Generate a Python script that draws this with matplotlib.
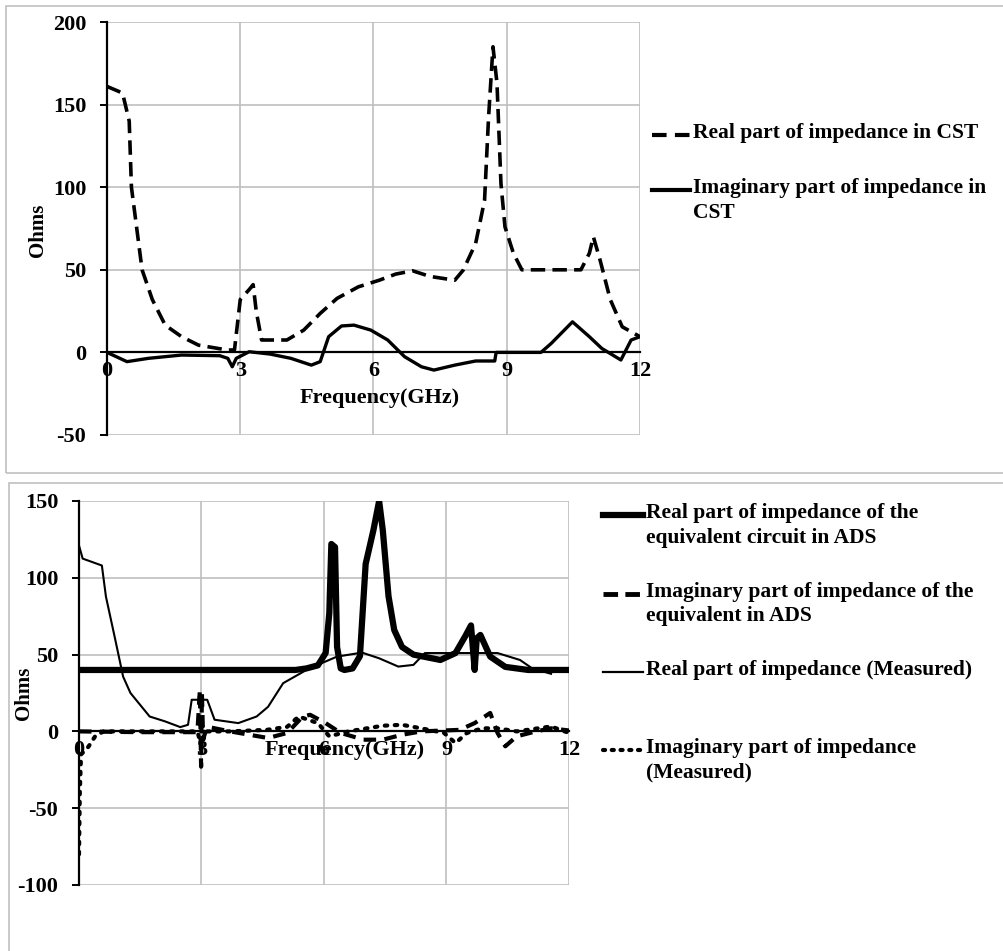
"""
Impedance of the antenna: CST simulation (top) and ADS circuit vs measurement (bottom).
"""
import matplotlib
matplotlib.use("Agg")
import matplotlib.pyplot as plt
from matplotlib.patches import Rectangle

plt.rcParams['font.family'] = ['Liberation Serif', 'DejaVu Serif']
plt.rcParams['font.weight'] = 'bold'
plt.rcParams['axes.unicode_minus'] = False

# --- top chart: CST ---
cst_real_f = [0, 0.35, 0.5, 0.55, 0.79, 1.02, 1.31, 1.68, 2.06, 2.72, 2.87, 3.0, 3.2, 3.29, 3.36, 3.48,
              4.05, 4.43, 4.8, 5.18, 5.66, 6.13, 6.5, 6.88, 7.27, 7.83, 8.02, 8.3, 8.5, 8.59, 8.69,
              8.78, 8.87, 8.96, 9.15, 9.34, 10.67, 10.86, 10.95, 11.1, 11.33, 11.6, 12]
cst_real = [161, 157, 140, 100, 50, 32, 16.5, 9.5, 4.4, 1.4, 1.5, 32, 38, 41, 25, 7.5,
            7.5, 13.5, 23.6, 32.7, 39.7, 43.7, 47.4, 49.4, 46, 43.7, 49.8, 66, 92, 142, 185,
            163, 102, 76, 60, 50, 50, 60, 70, 56, 32, 15.5, 9.5]

cst_imag_f = [0, 0.45, 0.93, 1.68, 2.54, 2.72, 2.82, 2.91, 3.2, 3.67, 4.14, 4.6, 4.8, 4.99, 5.28,
              5.56, 5.94, 6.32, 6.7, 7.08, 7.36, 7.83, 8.3, 8.73, 8.76, 9.77, 10.0, 10.48, 10.86,
              11.14, 11.57, 11.8, 12]
cst_imag = [0, -5.6, -3.6, -1.6, -2, -3.6, -8.7, -3.6, 0.4, -1, -3.6, -7.7, -5.6, 9.5, 16,
            16.5, 13.5, 7.5, -2.6, -8.7, -10.7, -7.7, -5.2, -5.2, 0, 0, 5.4, 18.5, 9.5,
            2.4, -4.6, 7.5, 9.5]

# --- bottom chart: ADS and measured ---
ads_real_f = [0, 5.3, 5.57, 5.85, 6.04, 6.13, 6.18, 6.27, 6.32, 6.41, 6.5, 6.7, 6.88, 7.02, 7.21,
              7.35, 7.44, 7.58, 7.72, 7.91, 8.19, 8.85, 9.22, 9.46, 9.6, 9.69, 9.74, 9.83, 10.07,
              10.44, 11.0, 12]
ads_real = [40, 40, 41, 43, 51, 77, 122, 120, 55, 41, 40, 41, 49, 109, 131,
            150, 131, 88, 66, 55, 50, 46.5, 51, 62, 69, 40, 60.6, 62.8, 48.7,
            42, 40, 40]

meas_real_f = [0, 0.09, 0.56, 0.66, 0.89, 1.08, 1.26, 1.73, 2.11, 2.48, 2.67, 2.76, 2.93, 3.14,
               3.32, 3.9, 4.35, 4.63, 5.0, 5.57, 5.94, 6.32, 6.93, 7.35, 7.82, 8.19, 8.47, 9.3,
               10.25, 10.8, 11.1, 11.56]
meas_real = [121, 112.5, 108, 87.7, 59.5, 35.7, 25, 9.7, 6.5, 2.8, 4.3, 20.6, 20.6, 20.6,
             7.6, 5.4, 9.7, 16, 31.4, 40, 44.4, 48.7, 51.3, 47.6, 42.2, 43.3, 51, 51,
             51, 46.5, 41, 37.5]

ads_imag_f = [0, 1.5, 2.9, 2.96, 2.99, 3.01, 3.04, 3.14, 3.7, 4.63, 5.1, 5.48, 5.66, 6.04, 6.41,
              6.97, 7.44, 7.91, 8.38, 9.32, 9.69, 10.07, 10.25, 10.44, 10.72, 11.19, 11.56, 12]
ads_imag = [0, -0.5, -0.5, 27, -23, 25, -5, 3, 0, -4.3, -1, 9.7, 10.8, 5.4, -1,
            -5.4, -5.4, -2.2, 0, 1, 5.4, 12, -1, -9.7, -3.2, 0, 2, 0.6]

meas_imag_f = [0, 0.02, 0.05, 0.23, 0.4, 0.6, 2.9, 3.0, 3.1, 3.7, 4.6, 5.1, 5.38, 5.85, 6.13,
               6.6, 7.44, 7.91, 8.38, 8.94, 9.22, 9.5, 9.88, 10.25, 10.72, 11.56, 12]
meas_imag = [-80, -40, -15, -10, -3, 0, 0, -10, 0, 0, 1, 3, 9.7, 5.4, -3.2,
             0, 3.7, 4.3, 2, -1, -7.6, -1, 2, 2, 0, 3.2, -1]

x_ticks = [0, 3, 6, 9, 12]

W, H = 1004, 951
fig = plt.figure(figsize=(W / 100, H / 100), dpi=100)

# panel frames (grey boxes like the pasted Excel charts)
fig.add_artist(Rectangle((6 / W, 1 - 473 / H), 1.2, 467 / H, transform=fig.transFigure,
                         fill=False, edgecolor='#c0c0c0', lw=1.2))
fig.add_artist(Rectangle((9 / W, -0.1), 1.2, 0.1 + 1 - 483 / H, transform=fig.transFigure,
                         fill=False, edgecolor='#c0c0c0', lw=1.2))


def px_axes(l, t, r, b):
    return fig.add_axes([l / W, 1 - b / H, (r - l) / W, (b - t) / H])


def style(ax, ylim, yticks, xlab_pos, ylab_pos):
    ax.set_xlim(0, 12)
    ax.set_ylim(*ylim)
    ax.set_xticks(x_ticks)
    ax.set_yticks(yticks)
    ax.grid(True, color='#bfbfbf', lw=1.2)
    ax.set_axisbelow(True)
    for s in ['top', 'right']:
        ax.spines[s].set_visible(False)
    ax.spines['left'].set_linewidth(1.6)
    ax.spines['bottom'].set_position(('data', 0))
    ax.spines['bottom'].set_linewidth(1.6)
    ax.tick_params(axis='y', direction='out', length=5, width=1.4, pad=10, labelsize=16)
    ax.tick_params(axis='x', length=0, pad=6, labelsize=16)
    ax.set_xlabel('Frequency(GHz)', fontsize=16, fontweight='bold', va='top')
    ax.xaxis.set_label_coords(*xlab_pos)
    ax.set_ylabel('Ohms', fontsize=15, fontweight='bold')
    ax.yaxis.set_label_coords(*ylab_pos)


LEG_FS = 15.5

# top chart
ax1 = px_axes(107, 22, 640, 435)
ax1.plot(cst_real_f, cst_real, color='black', lw=2.6, ls=(0, (4, 2)))
ax1.plot(cst_imag_f, cst_imag, color='black', lw=2.4)
style(ax1, (-50, 200), [-50, 0, 50, 100, 150, 200], (0.512, 0.114), (-0.111, 0.496))


def ax1_fx(px):
    return (px - 107) / 533


def ax1_fy(py):
    return (435 - py) / 413


top_entries = [
    (135, 'Real part of impedance in CST', dict(lw=3, ls=(0, (3.5, 2)))),
    (190, 'Imaginary part of impedance in\nCST', dict(lw=3)),
]
for py, label, kw in top_entries:
    ax1.plot([ax1_fx(652), ax1_fx(690)], [ax1_fy(py), ax1_fy(py)], transform=ax1.transAxes,
             clip_on=False, color='black', **kw)
    ax1.text(ax1_fx(693), ax1_fy(py - 12), label, transform=ax1.transAxes, fontsize=LEG_FS,
             fontweight='bold', va='top', ha='left', linespacing=1.3)

# bottom chart
ax2 = px_axes(79, 501, 569, 885)
ax2.plot(meas_real_f, meas_real, color='black', lw=1.5)
ax2.plot(ads_imag_f, ads_imag, color='black', lw=3, ls=(0, (3, 2)))
ax2.plot(meas_imag_f, meas_imag, color='black', lw=3, ls=(0, (0.6, 1.8)), dash_capstyle='round')
ax2.plot(ads_real_f, ads_real, color='black', lw=4.5)
style(ax2, (-100, 150), [-100, -50, 0, 50, 100, 150], (0.543, 0.378), (-0.092, 0.5))


def ax2_fx(px):
    return (px - 79) / 490


def ax2_fy(py):
    return (885 - py) / 384


entries = [
    (515, 'Real part of impedance of the\nequivalent circuit in ADS', dict(lw=4.5)),
    (594, 'Imaginary part of impedance of the\nequivalent in ADS', dict(lw=3.5, ls=(0, (3, 1.5)))),
    (672, 'Real part of impedance (Measured)', dict(lw=1.6)),
    (750, 'Imaginary part of impedance\n(Measured)', dict(lw=3, ls=(0, (0.5, 1.6)), dash_capstyle='round')),
]
for py, label, kw in entries:
    ax2.plot([ax2_fx(603), ax2_fx(643)], [ax2_fy(py), ax2_fy(py)], transform=ax2.transAxes,
             clip_on=False, color='black', **kw)
    ax2.text(ax2_fx(646), ax2_fy(py - 12), label, transform=ax2.transAxes, fontsize=LEG_FS,
             fontweight='bold', va='top', ha='left', linespacing=1.3)

fig.savefig('out.png', dpi=100)
